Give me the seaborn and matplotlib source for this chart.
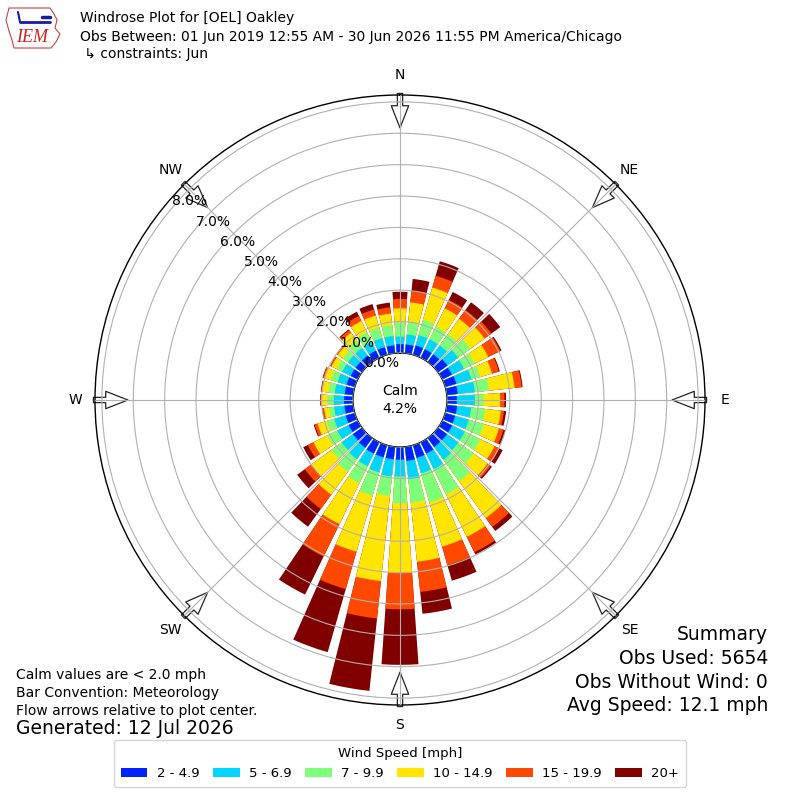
import numpy as np
import pandas as pd
import matplotlib
matplotlib.use("Agg")
import matplotlib.pyplot as plt
from matplotlib.patches import Patch, Polygon
from matplotlib.lines import Line2D
import seaborn as sns

# ---------------- data ----------------
directions_deg = list(range(0, 360, 10))
speed_bins = ["2 - 4.9", "5 - 6.9", "7 - 9.9", "10 - 14.9", "15 - 19.9", "20+"]
bin_colors = ["#0022ff", "#00d4ff", "#7dff7a", "#ffe500", "#ff4800", "#800000"]

# percent of observations per direction (0, 10, ..., 350 deg) for each speed bin
pct_2_5 = [0.28, 0.28, 0.31, 0.30, 0.30, 0.37, 0.34, 0.37, 0.35, 0.31, 0.33, 0.33,
           0.35, 0.35, 0.35, 0.40, 0.42, 0.45, 0.40, 0.40, 0.40, 0.40, 0.38, 0.35,
           0.32, 0.30, 0.28, 0.28, 0.27, 0.27, 0.25, 0.25, 0.25, 0.25, 0.25, 0.25]
pct_5_7 = [0.24, 0.32, 0.34, 0.35, 0.35, 0.42, 0.43, 0.50, 0.55, 0.58, 0.45, 0.45,
           0.45, 0.45, 0.50, 0.55, 0.51, 0.59, 0.54, 0.55, 0.50, 0.45, 0.45, 0.45,
           0.40, 0.38, 0.33, 0.33, 0.32, 0.30, 0.30, 0.30, 0.30, 0.32, 0.30, 0.30]
pct_7_10 = [0.45, 0.40, 0.51, 0.45, 0.45, 0.48, 0.37, 0.29, 0.45, 0.27, 0.45, 0.50,
            0.55, 0.60, 0.85, 0.90, 0.96, 0.75, 0.85, 0.62, 0.77, 0.60, 0.50, 0.40,
            0.35, 0.25, 0.16, 0.20, 0.20, 0.22, 0.20, 0.20, 0.30, 0.33, 0.35, 0.35]
pct_10_15 = [0.45, 0.63, 1.07, 0.65, 0.60, 0.56, 0.49, 0.39, 0.82, 0.53, 0.50, 0.50,
             0.50, 0.55, 1.45, 1.50, 1.47, 1.89, 2.23, 2.73, 1.86, 1.45, 0.90, 0.80,
             0.50, 0.30, 0.16, 0.18, 0.20, 0.22, 0.18, 0.20, 0.30, 0.40, 0.40, 0.37]
pct_15_20 = [0.30, 0.37, 0.39, 0.30, 0.35, 0.27, 0.43, 0.23, 0.23, 0.14, 0.10, 0.15,
             0.17, 0.12, 0.35, 0.55, 0.62, 0.97, 1.15, 1.20, 1.24, 1.15, 0.56, 0.25,
             0.20, 0.10, 0.05, 0.05, 0.04, 0.05, 0.04, 0.04, 0.10, 0.18, 0.20, 0.20]
pct_20_up = [0.23, 0.38, 0.48, 0.28, 0.30, 0.35, 0.04, 0.03, 0.03, 0.05, 0.07, 0.07,
             0.12, 0.05, 0.16, 0.08, 0.51, 0.70, 1.77, 2.32, 2.09, 1.35, 0.70, 0.30,
             0.16, 0.03, 0.02, 0.01, 0.01, 0.01, 0.01, 0.01, 0.03, 0.15, 0.18, 0.15]

calm_pct = 4.2
ring_ticks = [0, 1, 2, 3, 4, 5, 6, 7, 8]
ring_labels = ["0.0%", "1.0%", "2.0%", "3.0%", "4.0%", "5.0%", "6.0%", "7.0%", "8.0%"]
compass_deg = [0, 45, 90, 135, 180, 225, 270, 315]
compass_labels = ["N", "NE", "E", "SE", "S", "SW", "W", "NW"]

# ---------------- long-form table (cumulative stacks) ----------------
series = [pct_2_5, pct_5_7, pct_7_10, pct_10_15, pct_15_20, pct_20_up]
cum = np.cumsum(np.array(series), axis=0)
rows = []
for k, name in enumerate(speed_bins):
    for i, d in enumerate(directions_deg):
        rows.append({"theta": np.deg2rad(d), "cum": cum[k, i], "bin": name})
df = pd.DataFrame(rows)

# ---------------- figure ----------------
sns.set_theme(style="white")
plt.rcParams["font.family"] = ["DejaVu Sans"]
plt.rcParams["text.color"] = "black"
plt.rcParams["xtick.color"] = "black"
plt.rcParams["ytick.color"] = "black"

fig = plt.figure(figsize=(8, 8), dpi=100)
ax = fig.add_axes([0.11875, 0.11875, 0.7625, 0.7625], projection="polar")
ax.set_theta_zero_location("N")
ax.set_theta_direction(-1)

palette = dict(zip(speed_bins, bin_colors))
sns.barplot(data=df, x="theta", y="cum", hue="bin",
            hue_order=speed_bins[::-1], palette=palette,
            native_scale=True, dodge=False, orient="x", saturation=1,
            errorbar=None, width=0.8, linewidth=0, legend=False, ax=ax)

ax.set_xlabel("")
ax.set_ylabel("")
rmax = 8.22
ax.set_ylim(0, rmax)
ax.set_rorigin(-1.5)

ax.set_xticks(np.deg2rad(compass_deg))
ax.set_xticklabels([""] * len(compass_deg))
ax.set_yticks(ring_ticks)
ax.set_yticklabels(ring_labels)
ax.set_rlabel_position(310)
ax.tick_params(axis="y", labelsize=10, labelcolor="black")
ax.tick_params(axis="x", length=0)
ax.grid(True, color="#b0b0b0", linewidth=0.8)
ax.set_axisbelow(False)
for sp in ax.spines.values():
    sp.set_color("black")
    sp.set_linewidth(1.0)

# compass labels
for d, lab in zip(compass_deg, compass_labels):
    ax.text(np.deg2rad(d), 8.85, lab, ha="center", va="center", fontsize=10, color="black")

# flow arrows pointing to plot center
for d in compass_deg:
    th = np.deg2rad(d)
    ax.annotate("", xy=(th, rmax - 1.05), xytext=(th, rmax + 0.05),
                arrowprops=dict(arrowstyle="simple,head_length=1.6,head_width=1.25,tail_width=0.38",
                                mutation_scale=10, facecolor="white", edgecolor="#222222",
                                lw=0.9, shrinkA=0, shrinkB=0),
                annotation_clip=False, zorder=2)

# calm text
ax.text(0, -1.5, f"Calm\n{calm_pct:.1f}%", ha="center", va="center",
        fontsize=10, linespacing=1.4, zorder=7, color="black")

# ---------------- header ----------------
def fx(px):
    return px / 800.0

def fy(py):
    return 1.0 - py / 800.0

outline = [(9, 8), (50, 8), (54, 14), (57, 20), (55, 28), (60, 34), (56, 42), (51, 48),
           (14, 48), (12, 40), (9, 31), (6, 20)]
fig.add_artist(Polygon([(fx(x), fy(y)) for x, y in outline], closed=True,
                       transform=fig.transFigure, facecolor="none",
                       edgecolor="#d04040", linewidth=0.8))
fig.add_artist(Line2D([fx(20), fx(50)], [fy(22), fy(22)], transform=fig.transFigure,
                      color="#1a1aa0", linewidth=2))
fig.add_artist(Line2D([fx(20), fx(18)], [fy(22), fy(12)], transform=fig.transFigure,
                      color="#1a1aa0", linewidth=1.5))
fig.add_artist(Line2D([fx(42), fx(50)], [fy(17), fy(17)], transform=fig.transFigure,
                      color="#1a1aa0", linewidth=2.5))
fig.text(fx(32), fy(38), "IEM", ha="center", va="center", fontsize=13,
         color="#cc2222", family=["Liberation Serif", "DejaVu Serif"], style="italic")

fig.text(fx(80), fy(18), "Windrose Plot for [OEL] Oakley", ha="left", va="center", fontsize=10)
fig.text(fx(80), fy(37), "Obs Between: 01 Jun 2019 12:55 AM - 30 Jun 2026 11:55 PM America/Chicago",
         ha="left", va="center", fontsize=10)
fig.text(fx(80), fy(54), " \u21b3 constraints: Jun", ha="left", va="center", fontsize=10)

# ---------------- footer texts ----------------
fig.text(fx(16), fy(675), "Calm values are < 2.0 mph", ha="left", va="center", fontsize=10)
fig.text(fx(16), fy(693), "Bar Convention: Meteorology", ha="left", va="center", fontsize=10)
fig.text(fx(16), fy(711), "Flow arrows relative to plot center.", ha="left", va="center", fontsize=10)
fig.text(fx(16), fy(729), "Generated: 12 Jul 2026", ha="left", va="center", fontsize=13.5)

summary = ["Summary", "Obs Used: 5654", "Obs Without Wind: 0", "Avg Speed: 12.1 mph"]
for j, line in enumerate(summary):
    fig.text(fx(768), fy(635 + j * 23.5), line, ha="right", va="center", fontsize=13.5)

# ---------------- legend ----------------
handles = [Patch(facecolor=c, edgecolor="none") for c in bin_colors]
leg = fig.legend(handles, speed_bins, ncol=6, loc="lower center", bbox_to_anchor=(0.5, 0.008),
                 title="Wind Speed [mph]", fontsize=9.5, title_fontsize=9.5, frameon=True,
                 handlelength=2.0, handleheight=0.65, columnspacing=1.05, handletextpad=0.7,
                 edgecolor="#cccccc", fancybox=True, borderpad=0.55)
for t in leg.get_texts():
    t.set_color("black")
leg.get_title().set_color("black")

fig.savefig("out.png", dpi=100, facecolor="white")
